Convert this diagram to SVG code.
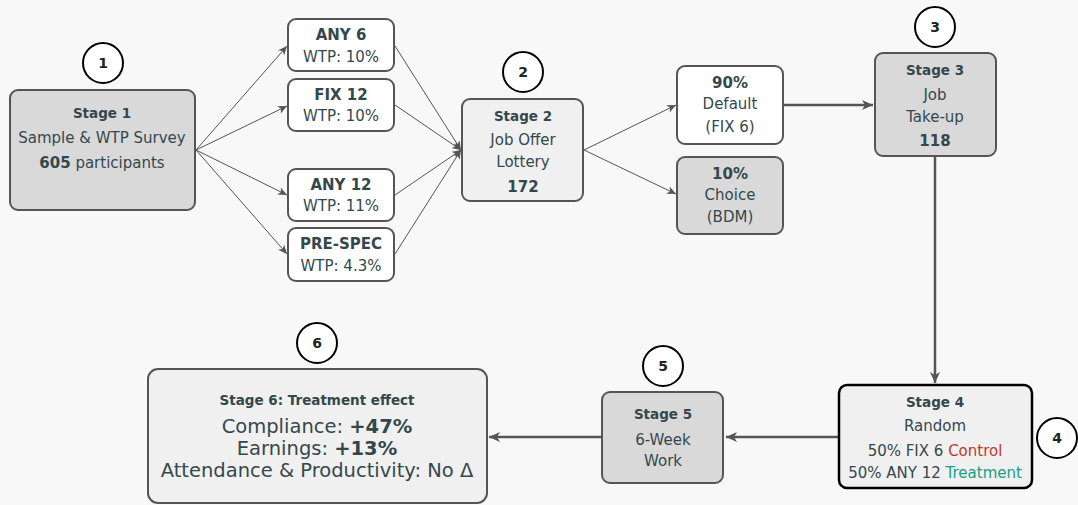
<svg xmlns="http://www.w3.org/2000/svg" width="1078" height="505" viewBox="0 0 1078 505">
<style>
text{font-family:"DejaVu Sans","Open Sans",sans-serif;fill:#34484c;text-anchor:middle;font-size:15px}
.b{font-weight:bold}
.h{font-weight:bold;font-size:13.5px}
.box{stroke:#555;stroke-width:2}
.dark{fill:#d9d9d9}
.light{fill:#f0f0f0}
.white{fill:#ffffff}
.circ{fill:#fff;stroke:#000;stroke-width:2}
.num{font-weight:bold;font-size:14px;fill:#222}
.thin{stroke:#555;stroke-width:1;fill:none}
.thick{stroke:#555;stroke-width:2.5;fill:none}
.big{font-size:19.5px}
</style>
<defs>
<marker id="ah" markerWidth="10" markerHeight="8" refX="9" refY="4" orient="auto" markerUnits="userSpaceOnUse">
<path d="M0,0 L9,4 L0,8 L2.5,4 Z" fill="#555"/>
</marker>
<marker id="ah2" markerWidth="12" markerHeight="10" refX="11" refY="5" orient="auto" markerUnits="userSpaceOnUse">
<path d="M0,0 L11,5 L0,10 L3,5 Z" fill="#555"/>
</marker>
</defs>
<rect width="1078" height="505" fill="#f8f8f8"/>
<g id="connectors">
<line class="thin" x1="196" y1="150" x2="287" y2="46" marker-end="url(#ah)"/>
<line class="thin" x1="196" y1="150" x2="287" y2="106" marker-end="url(#ah)"/>
<line class="thin" x1="196" y1="150" x2="287" y2="195" marker-end="url(#ah)"/>
<line class="thin" x1="196" y1="150" x2="287" y2="254" marker-end="url(#ah)"/>
<line class="thin" x1="395" y1="46" x2="461" y2="150" marker-end="url(#ah)"/>
<line class="thin" x1="395" y1="105" x2="461" y2="150" marker-end="url(#ah)"/>
<line class="thin" x1="395" y1="195" x2="461" y2="150" marker-end="url(#ah)"/>
<line class="thin" x1="395" y1="254" x2="461" y2="150" marker-end="url(#ah)"/>
<line class="thin" x1="584" y1="150" x2="676" y2="105" marker-end="url(#ah)"/>
<line class="thin" x1="584" y1="150" x2="676" y2="194" marker-end="url(#ah)"/>
<line class="thick" x1="784" y1="105" x2="873" y2="105" marker-end="url(#ah2)"/>
<line class="thick" x1="935" y1="157" x2="935" y2="383" marker-end="url(#ah2)"/>
<line class="thick" x1="838" y1="437" x2="726" y2="437" marker-end="url(#ah2)"/>
<line class="thick" x1="601" y1="437" x2="489" y2="437" marker-end="url(#ah2)"/>
</g>
<g id="stage1">
<rect class="box dark" x="10" y="90" width="185" height="120" rx="8"/>
<text x="102" y="118" class="h">Stage 1</text>
<text x="102" y="143">Sample &amp; WTP Survey</text>
<text x="102" y="168"><tspan class="b">605</tspan> participants</text>
</g>
<g id="c1"><circle class="circ" cx="103" cy="63" r="20"/><text class="num" x="103" y="68">1</text></g>
<g id="any6">
<rect class="box white" x="288" y="19" width="106" height="52" rx="8"/>
<text x="341" y="40" class="b">ANY 6</text>
<text x="341" y="62">WTP: 10%</text>
</g>
<g id="fix12">
<rect class="box white" x="288" y="79" width="106" height="52" rx="8"/>
<text x="341" y="100" class="b">FIX 12</text>
<text x="341" y="121">WTP: 10%</text>
</g>
<g id="any12">
<rect class="box white" x="288" y="169" width="106" height="52" rx="8"/>
<text x="341" y="190" class="b">ANY 12</text>
<text x="341" y="211">WTP: 11%</text>
</g>
<g id="prespec">
<rect class="box white" x="288" y="228" width="106" height="53" rx="8"/>
<text x="341" y="249" class="b">PRE-SPEC</text>
<text x="341" y="271">WTP: 4.3%</text>
</g>
<g id="stage2">
<rect class="box light" x="462" y="99" width="121" height="102" rx="8"/>
<text x="523" y="121" class="h">Stage 2</text>
<text x="523" y="145">Job Offer</text>
<text x="523" y="167">Lottery</text>
<text x="523" y="192" class="b">172</text>
</g>
<g id="c2"><circle class="circ" cx="523" cy="72" r="20"/><text class="num" x="523" y="77">2</text></g>
<g id="default">
<rect class="box white" x="677" y="66" width="106" height="78" rx="8"/>
<text x="730" y="88" class="b">90%</text>
<text x="730" y="109">Default</text>
<text x="730" y="132">(FIX 6)</text>
</g>
<g id="choice">
<rect class="box dark" x="677" y="157" width="106" height="77" rx="8"/>
<text x="730" y="179" class="b">10%</text>
<text x="730" y="200">Choice</text>
<text x="730" y="222">(BDM)</text>
</g>
<g id="stage3">
<rect class="box dark" x="875" y="53" width="121" height="103" rx="8"/>
<text x="935" y="75" class="h">Stage 3</text>
<text x="935" y="100">Job</text>
<text x="935" y="122">Take-up</text>
<text x="935" y="146" class="b">118</text>
</g>
<g id="c3"><circle class="circ" cx="935" cy="27" r="20"/><text class="num" x="935" y="32">3</text></g>
<g id="stage4">
<rect class="light" x="839" y="385" width="193" height="103" rx="8" stroke="#000" stroke-width="2.5"/>
<text x="935" y="407" class="h">Stage 4</text>
<text x="935" y="431">Random</text>
<text x="935" y="456">50% FIX 6 <tspan style="fill:#c0392b">Control</tspan></text>
<text x="935" y="478">50% ANY 12 <tspan style="fill:#16a085">Treatment</tspan></text>
</g>
<g id="c4"><circle class="circ" cx="1057" cy="438" r="20"/><text class="num" x="1057" y="443">4</text></g>
<g id="stage5">
<rect class="box dark" x="602" y="392" width="121" height="91" rx="8"/>
<text x="663" y="419" class="h">Stage 5</text>
<text x="663" y="445">6-Week</text>
<text x="663" y="466">Work</text>
</g>
<g id="c5"><circle class="circ" cx="663" cy="366" r="20"/><text class="num" x="663" y="371">5</text></g>
<g id="stage6">
<rect class="box light" x="148" y="369" width="339" height="134" rx="10"/>
<text x="317" y="405" class="b" style="font-size:13.5px">Stage 6: Treatment effect</text>
<text x="317" y="433" class="big">Compliance: <tspan class="b">+47%</tspan></text>
<text x="317" y="455" class="big">Earnings: <tspan class="b">+13%</tspan></text>
<text x="317" y="477" class="big">Attendance &amp; Productivity: No Δ</text>
</g>
<g id="c6"><circle class="circ" cx="317" cy="343" r="20"/><text class="num" x="317" y="348">6</text></g>
</svg>
